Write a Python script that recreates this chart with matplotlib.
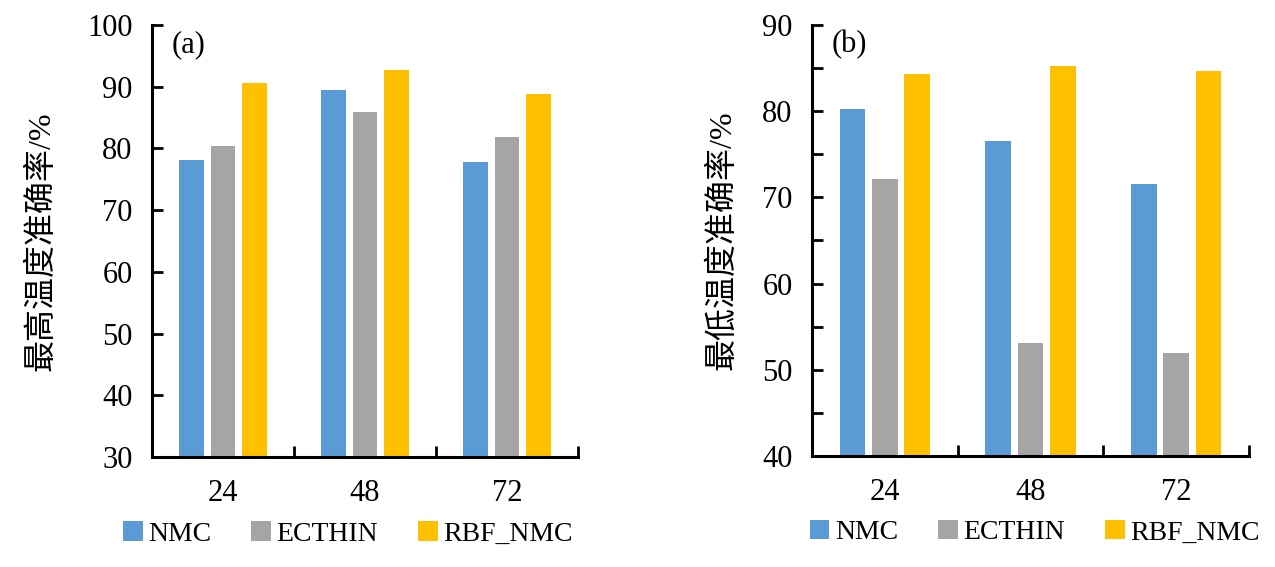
import matplotlib
matplotlib.use('Agg')
import matplotlib.pyplot as plt
import numpy as np
from matplotlib.ticker import MultipleLocator, FixedLocator

plt.rcParams['font.family'] = ['Liberation Serif', 'Noto Sans CJK SC']

# data
hours = ['24', '48', '72']
series = ['NMC', 'ECTHIN', 'RBF_NMC']
colors = ['#5B9BD5', '#A5A5A5', '#FFC000']

max_nmc = [78.1, 89.4, 77.8]
max_ecthin = [80.4, 85.9, 81.8]
max_rbf = [90.6, 92.7, 88.8]

min_nmc = [80.2, 76.6, 71.5]
min_ecthin = [72.1, 53.1, 52.0]
min_rbf = [84.3, 85.2, 84.7]

fig = plt.figure(figsize=(12.75, 5.67), dpi=100)
ax1 = fig.add_axes([152/1275, 1-457/567, 426/1275, 432/567])
ax2 = fig.add_axes([812/1275, 1-456/567, 437/1275, 431/567])

x = np.arange(len(hours))
w = 0.175
off = 0.222


def draw(ax, vals, ylim, ystep, minor, ylabel, tag, lpad, legx):
    for i, (v, c, name) in enumerate(zip(vals, colors, series)):
        ax.bar(x + (i - 1) * off, v, w, color=c, label=name)
    ax.set_xlim(-0.5, 2.5)
    ax.set_ylim(*ylim)
    ax.yaxis.set_major_locator(MultipleLocator(ystep))
    if minor:
        ax.yaxis.set_minor_locator(MultipleLocator(minor))
    ax.set_xticks(x)
    ax.set_xticklabels(hours)
    ax.xaxis.set_minor_locator(FixedLocator([0.5, 1.5, 2.5]))
    for s in ['top', 'right']:
        ax.spines[s].set_visible(False)
    for s in ['left', 'bottom']:
        ax.spines[s].set_linewidth(2.2)
    ax.tick_params(axis='y', which='both', direction='in', length=8, width=2.0,
                   labelsize=22, pad=14)
    ax.tick_params(axis='x', which='major', length=0, labelsize=22, pad=16)
    ax.tick_params(axis='x', which='minor', direction='in', length=8, width=2.0)
    ax.set_ylabel(ylabel, fontsize=23, labelpad=lpad)
    ax.text(0.045, 0.955, tag, transform=ax.transAxes, fontsize=22,
            va='center', ha='left')
    ax.legend(loc='center', bbox_to_anchor=(legx, -0.178), ncol=3, frameon=False,
              fontsize=20, handlelength=0.7, handleheight=0.7,
              handletextpad=0.2, columnspacing=1.45)


draw(ax1, [max_nmc, max_ecthin, max_rbf], (30, 100), 10, None,
     '最高温度准确率/%', '(a)', 22, 0.46)
draw(ax2, [min_nmc, min_ecthin, min_rbf], (40, 90), 10, 5,
     '最低温度准确率/%', '(b)', 18, 0.51)

fig.savefig('out.png', dpi=100)
